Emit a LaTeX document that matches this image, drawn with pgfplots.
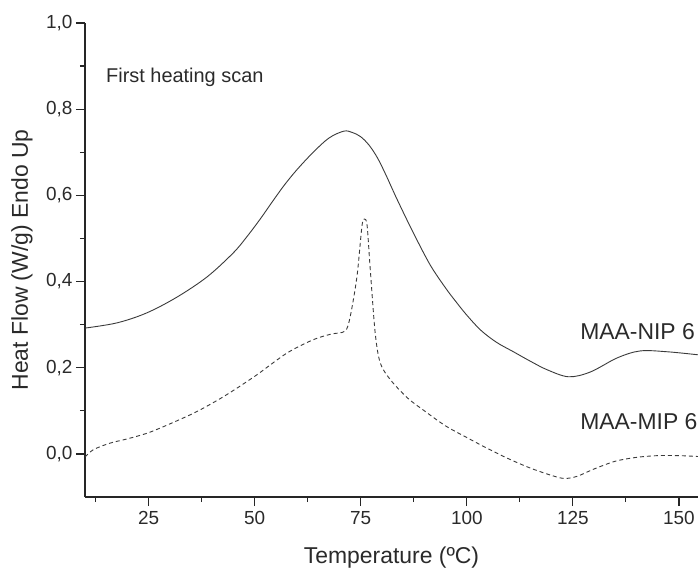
\documentclass[border=0pt]{standalone}
\usepackage{fontspec}
\setmainfont{Liberation Sans}
\usepackage{pgfplots}
\pgfplotsset{compat=1.18}
\definecolor{curve}{HTML}{3A3A3A}
\definecolor{txt}{HTML}{2A2A2A}
\begin{document}
\begin{tikzpicture}
\begin{axis}[
  at={(85bp,71bp)}, anchor=south west,
  scale only axis, width=613bp, height=474bp,
  xmin=10, xmax=154.5, ymin=-0.1, ymax=1.0,
  axis x line*=bottom, axis y line*=left,
  axis line style={line width=1.5bp, black!85},
  every tick/.style={line width=1.2bp, black!85},
  tick align=outside,
  major tick length=9bp, minor tick length=5bp,
  xtick={25,50,75,100,125,150},
  minor xtick={12.5,37.5,62.5,87.5,112.5,137.5},
  ytick={0,0.2,0.4,0.6,0.8,1.0},
  minor ytick={0.1,0.3,0.5,0.7,0.9},
  /pgf/number format/assume math mode=true,
  tick label style={font=\fontsize{19}{22}\selectfont, text=txt},
  yticklabel style={/pgf/number format/.cd, fixed, fixed zerofill, precision=1, use comma},
  xticklabel style={/pgf/number format/fixed, yshift=-2bp},
  xlabel={Temperature (ºC)},
  ylabel={Heat Flow (W/g) Endo Up},
  label style={font=\fontsize{23}{26}\selectfont, text=txt},
  xlabel style={at={(axis description cs:0.5,0)}, anchor=base, yshift=-66bp},
  ylabel style={at={(axis description cs:-0.1028,0.5)}, anchor=center},
  clip mode=individual,
]
\addplot[curve, line width=0.9bp, smooth, tension=0.55] coordinates {
(10,0.292) (17.5,0.304) (24.5,0.327) (31.7,0.364) (38.8,0.411) (44.9,0.466)
(48,0.502) (51.3,0.545) (54,0.583) (57,0.624) (60,0.66) (63.8,0.700)
(67.5,0.733) (71,0.749) (73,0.746) (75,0.736) (77,0.716) (79,0.686)
(81,0.646) (83.6,0.59) (87.4,0.513) (91.4,0.438) (95,0.385) (97.3,0.355)
(100,0.322) (103.3,0.287) (107,0.259) (111,0.237) (115,0.215) (119,0.195)
(124,0.179) (129.1,0.19) (135.5,0.223) (140.9,0.239) (147.3,0.237) (154.5,0.23)
};
\addplot[curve, line width=0.9bp, smooth, tension=0.5, dash pattern=on 4bp off 3bp] coordinates {
(10,-0.007) (12,0.01) (15.9,0.025) (20,0.035) (25.2,0.05) (32.4,0.08)
(37.1,0.102) (43,0.135) (50,0.18) (57.6,0.234) (63.8,0.265) (68,0.278)
(71.3,0.285) (72.5,0.318) (74.1,0.411) (75.3,0.53) (75.9,0.545) (76.5,0.53)
(77.2,0.434) (78.4,0.281) (79.6,0.211) (82,0.172) (86,0.13) (90,0.1)
(95,0.065) (100,0.038) (105,0.012) (110,-0.012) (115,-0.033) (120,-0.05)
(123,-0.057) (126,-0.052) (130,-0.035) (135,-0.017) (140,-0.008) (145,-0.004)
(150,-0.004) (154.5,-0.006)
};
\node[anchor=base west, inner sep=0pt, text=txt, font=\fontsize{20}{24}\selectfont] at (axis cs:14.95,0.861) {First heating scan};
\node[anchor=base west, inner sep=0pt, text=txt, font=\fontsize{23}{26}\selectfont] at (axis cs:126.7,0.2645) {MAA-NIP 6};
\node[anchor=base west, inner sep=0pt, text=txt, font=\fontsize{23}{26}\selectfont] at (axis cs:126.7,0.0557) {MAA-MIP 6'};
\end{axis}
\pgfresetboundingbox
\path[use as bounding box] (0,0) rectangle (698bp,568bp);
\end{tikzpicture}
\end{document}
